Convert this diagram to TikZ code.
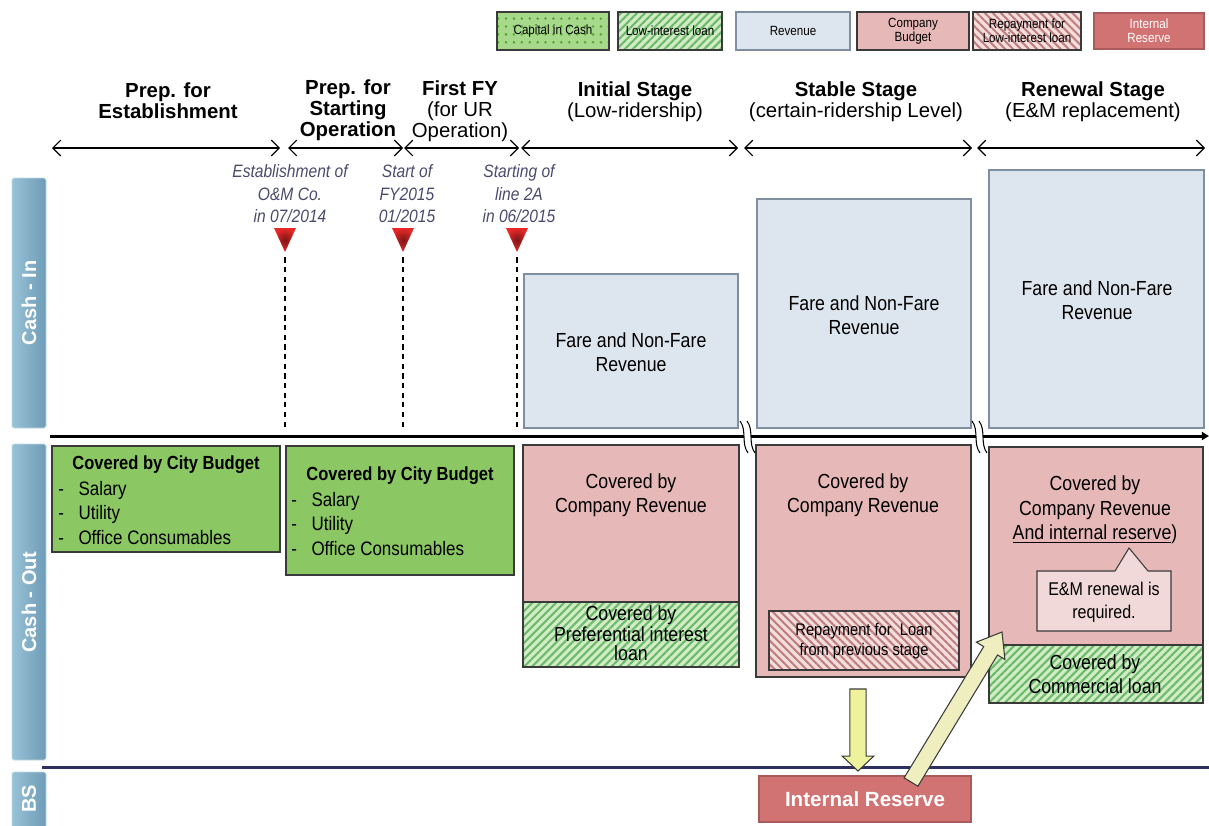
\documentclass[tikz,border=0pt]{standalone}
\usepackage{fontspec}
\setmainfont{Liberation Sans}
\newfontfamily\nf[FakeStretch=0.87]{Liberation Sans}
\usetikzlibrary{arrows.meta,patterns.meta,fit,calc}

\newcommand\fsz[2]{\fontsize{#1}{#2}\selectfont}

\definecolor{revfill}{HTML}{DDE6EF}
\definecolor{revline}{HTML}{7F8FA0}
\definecolor{pinkfill}{HTML}{E6B9B8}
\definecolor{cityfill}{HTML}{8BC763}
\definecolor{hatchbg}{HTML}{D2ECC6}
\definecolor{hatchln}{HTML}{6CBA6C}
\definecolor{redbg}{HTML}{F3DEDE}
\definecolor{redln}{HTML}{C08080}
\definecolor{dotbg}{HTML}{A6DA8A}
\definecolor{dotfg}{HTML}{58A038}
\definecolor{reservefill}{HTML}{D07372}
\definecolor{reserveline}{HTML}{A95A5A}
\definecolor{callfill}{HTML}{F1D9D9}
\definecolor{barL}{HTML}{98C2D6}
\definecolor{barR}{HTML}{6E9BB6}
\definecolor{milestone}{HTML}{4A4A6E}
\definecolor{bsline}{HTML}{2F2F5E}
\definecolor{yellowA}{HTML}{EFF29C}
\definecolor{yellowB}{HTML}{EEEEBE}
\definecolor{boxline}{HTML}{3A3A3A}
\definecolor{markouter}{HTML}{E82828}
\definecolor{markinner}{HTML}{7E1616}

\tikzset{
  area/.style={inner sep=0pt, draw=boxline, line width=0.6pt},
  revbox/.style={area, fill=revfill, draw=revline, line width=0.8pt},
  pinkbox/.style={area, fill=pinkfill},
  citybox/.style={area, fill=cityfill},
  loanbox/.style={area, preaction={fill=hatchbg},
    preaction={pattern={Lines[angle=45,distance=3.2pt,line width=1.2pt]}, pattern color=hatchln}},
  repaybox/.style={area, preaction={fill=redbg},
    preaction={pattern={Lines[angle=-45,distance=3.2pt,line width=1.2pt]}, pattern color=redln}},
  cashbox/.style={area, preaction={fill=dotbg},
    preaction={pattern={Dots[distance=4.5pt,radius=0.8pt]}, pattern color=dotfg}},
  reservebox/.style={area, fill=reservefill, draw=reserveline, line width=1.6pt},
  sidebar/.style={inner sep=0pt, left color=barL, right color=barR, draw=barL!60!white,
    line width=0.5pt, rounded corners=1pt},
  sidetext/.style={rotate=90, text=white, font=\bfseries\fsz{11.4}{12}},
  hdr/.style={align=center, font=\fsz{11.6}{11.8}},
  ms/.style={align=center, text=milestone, font=\nf\itshape\fsz{10.2}{12.8}},
  body/.style={align=center, font=\nf\fsz{11.6}{13.9}},
  leg/.style={align=center, font=\nf\fsz{7.6}{8}},
  bullets/.style={anchor=north west, inner sep=0pt, align=left, font=\nf\fsz{11.1}{13.9}},
  span/.style={{Straight Barb[length=4.5pt,width=9pt]}-{Straight Barb[length=4.5pt,width=9pt]}, line width=0.7pt},
  axis/.style={-{Triangle[length=4pt,width=4.5pt]}, line width=1.7pt},
  guide/.style={dash pattern=on 3pt off 2.5pt, line width=0.7pt},
  yarrowA/.style={fill=yellowA, draw=boxline, line width=0.6pt, line join=miter},
  yarrowB/.style={fill=yellowB, draw=boxline, line width=0.6pt, line join=miter},
}

% block arrow: #1 tail, #2 tip, #3 shaft half width, #4 head half width, #5 head length, #6 style
\newcommand\blockarrow[6]{%
  \coordinate (ba-h) at ($(#2)!#5!(#1)$);
  \path[#6] ($(#1)!#3!90:(#2)$) -- ($(ba-h)!#3!90:(#2)$) -- ($(ba-h)!#4!90:(#2)$)
    -- (#2) -- ($(ba-h)!#4!-90:(#2)$) -- ($(ba-h)!#3!-90:(#2)$) -- ($(#1)!#3!-90:(#2)$) -- cycle;
}

% wavy break of the time axis at x = #1
\newcommand\axisbreak[1]{%
  \fill[white] (#1,421) .. controls ({#1+7},430) and ({#1+1},444) .. ({#1+8},453)
    -- ({#1+15},453) .. controls ({#1+8},444) and ({#1+14},430) .. ({#1+7},421) -- cycle;
  \draw[line width=0.6pt] (#1,421) .. controls ({#1+7},430) and ({#1+1},444) .. ({#1+8},453);
  \draw[line width=0.6pt] ({#1+7},421) .. controls ({#1+14},430) and ({#1+8},444) .. ({#1+15},453);
}

% milestone marker: downward red triangle with tip at (#1,252)
\newcommand\marker[2]{%
  \coordinate (#2) at (#1,252);
  \shade[inner color=markinner, outer color=markouter]
    ({#1-11},228) -- ({#1+11},228) -- (#2) -- cycle;
}

\newcommand\itm[1]{\makebox[11.5pt][l]{-}#1}

\begin{document}
\begin{tikzpicture}[x=0.02cm,y=-0.02cm]
\useasboundingbox (0,0) rectangle (1209,825);

% ---------- legend ----------
\node[cashbox, fit={(497,12) (609,50)}] (lgcash) {};
\node[leg] at (lgcash.center) {Capital in Cash};
\node[loanbox, fit={(618,12) (722,50)}] (lgloan) {};
\node[leg] at (lgloan.center) {Low-interest loan};
\node[revbox, fit={(736,12) (850,50)}] (lgrev) {};
\node[leg] at (lgrev.center) {Revenue};
\node[pinkbox, fit={(857,12) (969,50)}] (lgbud) {};
\node[leg] at (lgbud.center) {Company\\Budget};
\node[repaybox, fit={(973,12) (1081,50)}] (lgrepay) {};
\node[leg] at (lgrepay.center) {Repayment for\\Low-interest loan};
\node[reservebox, fit={(1094,13) (1204,49)}] (lgres) {};
\node[leg, text=white] at (lgres.center) {Internal\\Reserve};

% ---------- stage headers ----------
\node[hdr] (h1) at (168,101) {\textbf{Prep. for}\\\textbf{Establishment}};
\node[hdr] (h2) at (348,110) {\textbf{Prep. for}\\\textbf{Starting}\\\textbf{Operation}};
\node[hdr] (h3) at (460,111) {\textbf{First FY}\\(for UR\\Operation)};
\node[hdr] (h4) at (635,102) {\textbf{Initial Stage}\\(Low-ridership)};
\node[hdr] (h5) at (856,102) {\textbf{Stable Stage}\\(certain-ridership Level)};
\node[hdr] (h6) at (1093,102) {\textbf{Renewal Stage}\\(E\&M replacement)};

\coordinate (s0) at (52,148);   \coordinate (s1) at (280,148);
\coordinate (s2) at (288,148);  \coordinate (s3) at (403,148);
\coordinate (s4) at (404,148);  \coordinate (s5) at (519,148);
\coordinate (s6) at (521,148);  \coordinate (s7) at (738,148);
\coordinate (s8) at (744,148);  \coordinate (s9) at (972,148);
\coordinate (s10) at (977,148); \coordinate (s11) at (1205,148);
\draw[span] (s0) -- (s1);
\draw[span] (s2) -- (s3);
\draw[span] (s4) -- (s5);
\draw[span] (s6) -- (s7);
\draw[span] (s8) -- (s9);
\draw[span] (s10) -- (s11);

% ---------- milestones ----------
\node[ms] (ms1) at (290,194) {Establishment of\\O\&M Co.\\in 07/2014};
\node[ms] (ms2) at (407,194) {Start of\\FY2015\\01/2015};
\node[ms] (ms3) at (519,194) {Starting of\\line 2A\\in 06/2015};
\marker{285}{mk1}
\marker{403}{mk2}
\marker{517}{mk3}
\coordinate (g1) at (285,430);
\coordinate (g2) at (403,430);
\coordinate (g3) at (517,430);
\draw[guide] ([yshift=-3pt]mk1) -- (g1);
\draw[guide] ([yshift=-3pt]mk2) -- (g2);
\draw[guide] ([yshift=-3pt]mk3) -- (g3);

% ---------- side bars ----------
\node[sidebar, fit={(12,178) (46,428)}] (barin) {};
\node[sidetext] at (barin.center) {Cash - In};
\node[sidebar, fit={(12,444) (46,760)}] (barout) {};
\node[sidetext] at (barout.center) {Cash - Out};
\node[sidebar, fit={(12,772) (46,830)}] (barbs) {};
\node[sidetext] at (barbs.center |- 0,799) {BS};

% ---------- cash-in: revenue ----------
\node[revbox, fit={(524,274) (738,428)}] (rev1) {};
\node[body] at (631,352) {Fare and Non-Fare\\Revenue};
\node[revbox, fit={(757,199) (971,428)}] (rev2) {};
\node[body] at (864,315) {Fare and Non-Fare\\Revenue};
\node[revbox, fit={(989,170) (1204,428)}] (rev3) {};
\node[body] at (1097,300) {Fare and Non-Fare\\Revenue};

% ---------- time axis ----------
\coordinate (axL) at (50,436);
\coordinate (axR) at (1209,436);
\draw[axis] (axL) -- (axR);

% ---------- cash-out ----------
\node[citybox, fit={(52,446) (280,552)}] (city1) {};
\node[font=\nf\bfseries\fsz{10.8}{12}] at (166,465) {Covered by City Budget};
\node[bullets] at (58,481) {\itm{Salary}\\\itm{Utility}\\\itm{Office Consumables}};

\node[citybox, fit={(286,446) (514,575)}] (city2) {};
\node[font=\nf\bfseries\fsz{10.8}{12}] at (400,476) {Covered by City Budget};
\node[bullets] at (291,492) {\itm{Salary}\\\itm{Utility}\\\itm{Office Consumables}};

\node[pinkbox, fit={(523,445) (739,602)}] (bud1) {};
\node[body] at (631,495) {Covered by\\Company Revenue};
\node[loanbox, fit={(523,602) (739,667)}] (loan1) {};
\node[body, font=\nf\fsz{11.6}{10.8}] at (631,633) {Covered by\\Preferential interest\\loan};

\node[pinkbox, fit={(756,445) (971,677)}] (bud2) {};
\node[body] at (863,495) {Covered by\\Company Revenue};
\node[repaybox, fit={(769,611) (959,670)}] (repay) {};
\node[align=center, font=\nf\fsz{9.6}{11.4}] at (864,641) {Repayment for~ Loan\\from previous stage};

\node[pinkbox, fit={(989,447) (1203,645)}] (bud3) {};
\node[body] at (1095,510) {Covered by\\Company Revenue\\\underline{And internal reserve})};
\node[loanbox, fit={(989,645) (1203,703)}] (loan3) {};
\node[body] at (1095,674) {Covered by\\Commercial loan};

% callout
\path[fill=callfill, draw=boxline, line width=0.6pt, line join=miter]
  (1037,571) -- (1115,571) -- (1129,548) -- (1148,571) -- (1171,571)
  -- (1171,631) -- (1037,631) -- cycle;
\node[align=center, font=\nf\fsz{10.5}{13}] (callout) at (1104,602) {E\&M renewal is\\required.};

% axis breaks
\axisbreak{740}
\axisbreak{972}

% ---------- balance sheet ----------
\coordinate (bsL) at (42,767);
\coordinate (bsR) at (1209,767);
\draw[bsline, line width=1.7pt] (bsL) -- (bsR);

\node[reservebox, fit={(759,776) (971,822)}] (reserve) {};
\node[text=white, font=\bfseries\fsz{11.7}{12}] at (reserve.center) {Internal Reserve};

% ---------- flows ----------
\coordinate (dnA) at (858,689);
\coordinate (dnB) at (858,771);
\blockarrow{dnA}{dnB}{4.6pt}{9pt}{8.5pt}{yarrowA}
\coordinate (upA) at (911,782);
\coordinate (upB) at (1002,632);
\blockarrow{upA}{upB}{4.6pt}{9.5pt}{12.5pt}{yarrowB}

\end{tikzpicture}
\end{document}
